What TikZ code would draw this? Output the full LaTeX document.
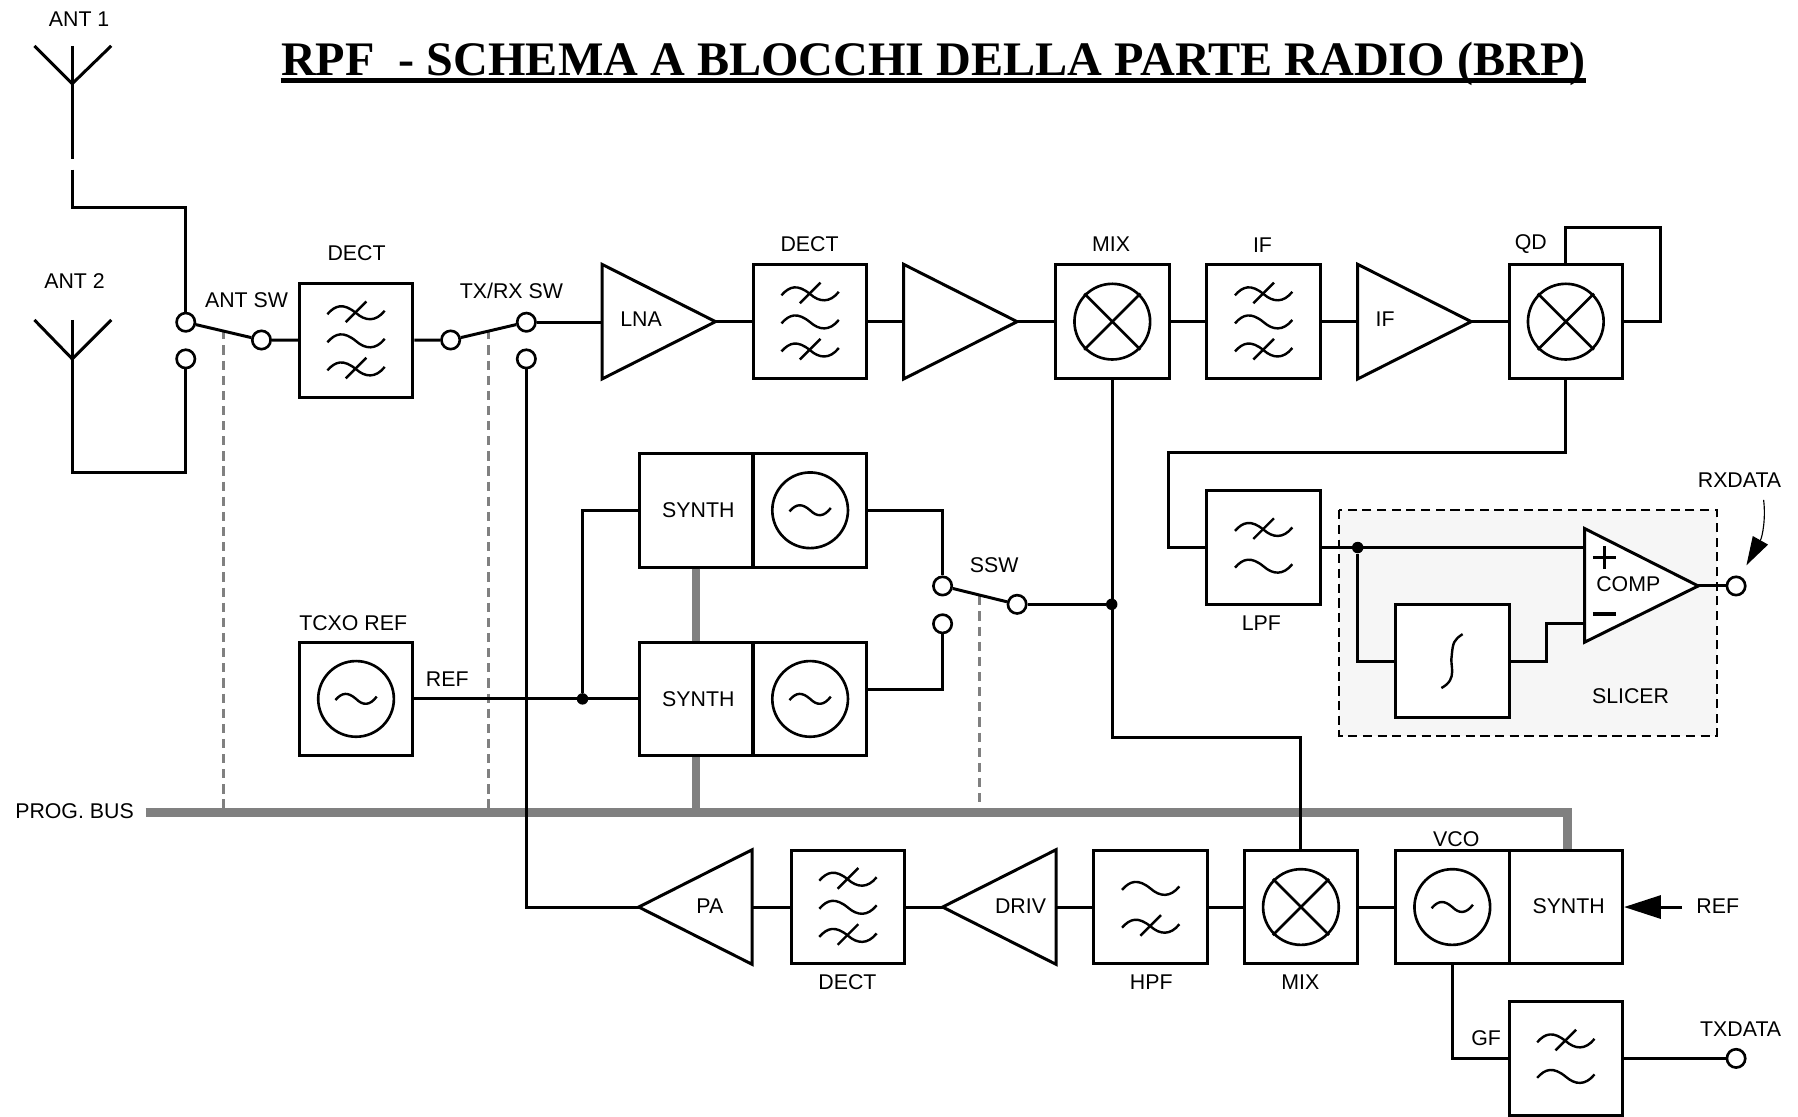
\documentclass[tikz,border=0pt]{standalone}
\usepackage{fontspec}
\setmainfont{Liberation Sans}
\newfontfamily\titlefont{Liberation Serif}
\usetikzlibrary{arrows.meta}
\tikzset{
  wire/.style={line width=1.3pt,line join=miter},
  blk/.style={draw,line width=1.3pt,minimum size=49.5pt,inner sep=0pt,font=\lbl},
  lab/.style={inner sep=0pt,font=\lbl},
  term/.style={draw,line width=1.15pt,circle,minimum size=8pt,inner sep=0pt,fill=white},
  jdot/.style={fill=black,circle,minimum size=5pt,inner sep=0pt},
  bus/.style={line width=3.8pt,draw=busgray},
  dbus/.style={line width=1.2pt,draw=busgray,dash pattern=on 4pt off 2.6pt},
  glyph/.style={line width=1.05pt},
  wavep/.pic={\draw[glyph] (-25,1) .. controls (-18,-7) and (-11,-9) .. (0,0) .. controls (8,7) and (17,8) .. (25,-2);},
  wavex/.pic={\draw[glyph] (-25,1) .. controls (-18,-7) and (-11,-9) .. (0,0) .. controls (8,7) and (17,8) .. (25,-2);
              \draw[glyph] (-9,8) -- (9,-10);},
  oscglyph/.pic={\draw[line width=1.15pt] (0,0) circle (33);
              \draw[glyph] (-18,1) .. controls (-12,-6) and (-7,-6) .. (0,0) .. controls (6,6) and (12,6) .. (18,-2);},
  mixglyph/.pic={\draw[line width=1.15pt] (0,0) circle (33);
              \draw[line width=1.15pt] (-24.5,-24.5) -- (24.5,24.5) (-24.5,24.5) -- (24.5,-24.5);}
}
\definecolor{busgray}{HTML}{808080}
\definecolor{slicerbg}{HTML}{F6F6F6}
\newcommand\lbl{\fontsize{9.3pt}{11pt}\selectfont}
\newcommand\ampR[3]{\coordinate (#1-in) at (#2,#3); \coordinate (#1-out) at (#2+99,#3);
  \draw[wire] (#2,#3-50) -- (#2+99,#3) -- (#2,#3+50) -- cycle;}
\newcommand\ampL[3]{\coordinate (#1-out) at (#2,#3); \coordinate (#1-in) at (#2+99,#3);
  \draw[wire] (#2+99,#3-50) -- (#2,#3) -- (#2+99,#3+50) -- cycle;}
\begin{document}
\begin{tikzpicture}[x=0.5pt,y=-0.5pt]
\useasboundingbox (0,0) rectangle (1568,974);

% title
\node[anchor=base,inner sep=0pt,font=\titlefont\bfseries\fontsize{21pt}{26pt}\selectfont] (title) at (814,65.5) {RPF\ \ - SCHEMA A BLOCCHI DELLA PARTE RADIO (BRP)};
\draw[line width=1.9pt] ([yshift=-2.3pt]title.base west) -- ([yshift=-2.3pt]title.base east);

% slicer background
\draw[fill=slicerbg,line width=0.9pt,dash pattern=on 4pt off 2.4pt] (1168,445) rectangle (1497,642);

% coordinates for bus and switches
\coordinate (busL) at (127,708.5);
\coordinate (dA) at (195,288);
\coordinate (dB) at (426,288);
\coordinate (dC) at (854,520);

% blocks
\node[blk] (dect1) at (310.5,297) {};
\pic at (310.5,273) {wavex}; \pic at (310.5,297.5) {wavep}; \pic at (310.5,322) {wavex};
\node[blk] (dect2) at (706.5,280.5) {};
\pic at (706.5,256.5) {wavex}; \pic at (706.5,281) {wavep}; \pic at (706.5,305.5) {wavex};
\node[blk] (mix1) at (970,280.5) {};
\pic at (970,280.5) {mixglyph};
\node[blk] (iff) at (1102,280.5) {};
\pic at (1102,256.5) {wavex}; \pic at (1102,281) {wavep}; \pic at (1102,305.5) {wavex};
\node[blk] (qd) at (1365.5,280.5) {};
\pic at (1365.5,280.5) {mixglyph};
\node[blk] (lpf) at (1102,477.5) {};
\pic at (1102,462) {wavex}; \pic at (1102,494) {wavep};
\node[blk,fill=white] (integ) at (1266.5,576.5) {};
\draw[glyph] (1257,600) .. controls (1272,592) and (1264,580) .. (1266,572) .. controls (1267,560) and (1268,558) .. (1275.5,553);
\node[blk] (synthA) at (607,445) {};
\node[lab] (lSynA) at (609,444.5) {SYNTH};
\node[blk] (oscA) at (706.5,445) {};
\pic at (706.5,445) {oscglyph};
\node[blk] (synthB) at (607,609.5) {};
\node[lab] (lSynB) at (609,609.5) {SYNTH};
\node[blk] (oscB) at (706.5,609.5) {};
\pic at (706.5,609.5) {oscglyph};
\node[blk] (tcxo) at (310.5,609.5) {};
\pic at (310.5,609.5) {oscglyph};
\node[blk] (dect3) at (739.5,791) {};
\pic at (739.5,767) {wavex}; \pic at (739.5,791.5) {wavep}; \pic at (739.5,816) {wavex};
\node[blk] (hpf) at (1003.5,791) {};
\pic at (1003.5,775) {wavep}; \pic at (1003.5,808) {wavex};
\node[blk] (mix2) at (1134.5,791) {};
\pic at (1134.5,791) {mixglyph};
\node[blk] (vco) at (1266.5,791) {};
\pic at (1266.5,791) {oscglyph};
\node[blk] (synthC) at (1365.5,791) {};
\node[lab] (lSynC) at (1368,790) {SYNTH};
\node[blk] (gf) at (1365.5,923) {};
\pic at (1365.5,908) {wavex}; \pic at (1365.5,939) {wavep};

% amplifiers
\ampR{lna}{525}{280.5}
\ampR{amp}{788}{280.5}
\ampR{ifa}{1184}{280.5}
\ampL{pa}{557}{791}
\ampL{driv}{822}{791}

% comparator
\coordinate (cP) at (1382,477.5);
\coordinate (cM) at (1382,544);
\coordinate (cO) at (1481,511);
\draw[wire,fill=white] (1382,461) -- (cO) -- (1382,560) -- cycle;
\draw[line width=1.5pt] (1389,486) -- (1409,486) (1399,476) -- (1399,496);
\draw[line width=1.5pt] (1389,535.5) -- (1409,535.5);

% terminals and junctions
\node[term] (ant1T) at (162,281) {};
\node[term] (ant2T) at (162,313) {};
\node[term] (antC) at (228,296.5) {};
\node[term] (trC) at (393,296.5) {};
\node[term] (trA) at (459,281) {};
\node[term] (trB) at (459,313) {};
\node[term] (ssA) at (822,511) {};
\node[term] (ssB) at (822,544) {};
\node[term] (ssC) at (887,527) {};
\node[term] (rxT) at (1514,511) {};
\node[term] (txT) at (1514,923) {};
\node[jdot] (jRef) at (508,609.5) {};
\node[jdot] (jLO) at (969.5,527) {};
\node[jdot] (jSl) at (1184,477.5) {};

% antennas
\coordinate (a1L) at (30,40); \coordinate (a1R) at (97,40); \coordinate (a1T) at (63,40);
\coordinate (a1A) at (63,73); \coordinate (a1G) at (63,139); \coordinate (a1H) at (63,148);
\coordinate (a1K) at (63,181);
\coordinate (a2L) at (30,279); \coordinate (a2R) at (97,279); \coordinate (a2T) at (63,279);
\coordinate (a2A) at (63,313); \coordinate (a2K) at (63,412);
\draw[wire] (a1L) -- (a1A) -- (a1R);
\draw[wire] (a1T) -- (a1G);
\draw[wire] (a1H) -- (a1K) -| (ant1T);
\draw[wire] (a2L) -- (a2A) -- (a2R);
\draw[wire] (a2T) -- (a2K) -| (ant2T);

% bus
\draw[bus] (busL) -| ([xshift=0.75pt]synthC.north);
\draw[bus] (synthA.south) -- (synthB.north);
\draw[bus] (synthB.south) -- (synthB.south |- busL);
\draw[dbus] (dA) -- (dA |- busL);
\draw[dbus] (dB) -- (dB |- busL);
\draw[dbus] (dC) -- (dC |- busL);

% receive chain
\draw[wire] (ant1T) -- (antC);
\draw[wire] (antC) -- (dect1);
\draw[wire] (dect1) -- (trC);
\draw[wire] (trC) -- (trA);
\draw[wire] (trA) -- (trA -| lna-in);
\draw[wire] (lna-out) -- (dect2.west);
\draw[wire] (dect2.east) -- (amp-in);
\draw[wire] (amp-out) -- (mix1.west);
\draw[wire] (mix1.east) -- (iff.west);
\draw[wire] (iff.east) -- (ifa-in);
\draw[wire] (ifa-out) -- (qd.west);
\coordinate (qdR) at (1448,280.5);
\coordinate (qdT) at (1448,198);
\draw[wire] (qd.east) -- (qdR) -- (qdT) -| (qd.north);
\coordinate (qdD) at (1365.5,395);
\coordinate (qdL) at (1019,395);
\draw[wire] (qd.south) -- (qdD) -- (qdL) |- (lpf.west);
\draw[wire] (lpf.east) -- (cP);
\draw[wire] (jSl) |- (integ.west);
\coordinate (intM) at (1349,576.5);
\draw[wire] (integ.east) -- (intM) |- (cM);
\draw[wire] (cO) -- (rxT);

% synthesizers
\draw[wire] (tcxo.east) -- (synthB.west);
\draw[wire] (jRef) |- (synthA.west);
\draw[wire] (oscA.east) -| (ssA);
\draw[wire] ([yshift=4pt]oscB.east) -| (ssB);
\draw[wire] (ssA) -- (ssC);
\draw[wire] (ssC) -- (jLO);
\coordinate (loA) at (970,643);
\coordinate (loB) at (1134.5,643);
\draw[wire] (mix1.south) -- (loA) -- (loB) -- (mix2.north);

% transmit chain
\draw[wire] (trB) |- (pa-out);
\draw[wire] (pa-in) -- (dect3.west);
\draw[wire] (dect3.east) -- (driv-out);
\draw[wire] (driv-in) -- (hpf.west);
\draw[wire] (hpf.east) -- (mix2.west);
\draw[wire] (mix2.east) -- (vco.west);
\draw[wire] (vco.south) |- (gf.west);
\draw[wire] (gf.east) -- (txT);

% arrows
\coordinate (refS) at (1467,791);
\draw[wire,-{Triangle[length=16pt,width=10pt]}] (refS) -- (synthC.east);
\coordinate (rxA) at (1538,436);
\coordinate (rxB) at (1523,493);
\draw[line width=0.5pt,-{Triangle[length=12.5pt,width=7.5pt]}] (rxA) .. controls (1540,452) and (1537,468) .. (rxB);

% labels
\node[lab] (lAnt1) at (69,16.5) {ANT 1};
\node[lab] (lAnt2) at (65,245.5) {ANT 2};
\node[lab] (lAntSw) at (215,261.5) {ANT SW};
\node[lab] (lDect1) at (311,220.5) {DECT};
\node[lab] (lTrSw) at (446,253.5) {TX/RX SW};
\node[lab] (lLna) at (559,278.5) {LNA};
\node[lab] (lDect2) at (706,212.5) {DECT};
\node[lab] (lMix1) at (969,212.5) {MIX};
\node[lab] (lIf1) at (1101,213.5) {IF};
\node[lab] (lIf2) at (1208,278.5) {IF};
\node[lab] (lQd) at (1335,212.5) {QD};
\node[lab] (lSsw) at (867,492.5) {SSW};
\node[lab] (lTcxo) at (308,543.5) {TCXO REF};
\node[lab] (lRef1) at (390,592.5) {REF};
\node[lab] (lLpf) at (1100,543.5) {LPF};
\node[lab] (lComp) at (1420,509.5) {COMP};
\node[lab] (lSlicer) at (1422,607.5) {SLICER};
\node[lab] (lRx) at (1517,418.5) {RXDATA};
\node[lab] (lBus) at (65,707.5) {PROG. BUS};
\node[lab] (lPa) at (619,790.5) {PA};
\node[lab] (lDect3) at (739,856.5) {DECT};
\node[lab] (lDriv) at (890,790.5) {DRIV};
\node[lab] (lHpf) at (1004,856.5) {HPF};
\node[lab] (lMix2) at (1134,856.5) {MIX};
\node[lab] (lVco) at (1270,731.5) {VCO};
\node[lab] (lRef2) at (1498,790.5) {REF};
\node[lab] (lGf) at (1296,905.5) {GF};
\node[lab] (lTx) at (1518,897.5) {TXDATA};
\end{tikzpicture}
\end{document}
